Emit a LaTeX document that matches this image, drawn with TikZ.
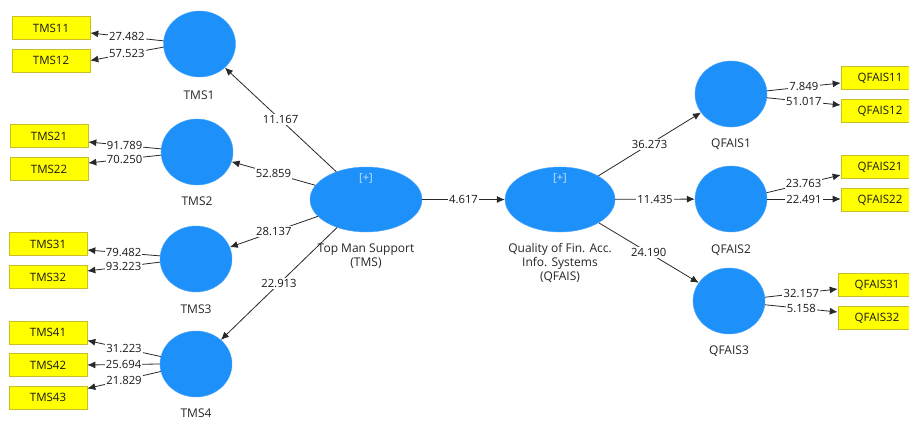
\documentclass[tikz,border=0pt]{standalone}
\usepackage{fontspec}
\setmainfont{Open Sans}
\usetikzlibrary{shapes.geometric,arrows.meta,calc}
\definecolor{lvblue}{RGB}{30,144,250}
\definecolor{indyellow}{RGB}{255,255,0}
\definecolor{indborder}{RGB}{200,190,40}
\definecolor{linegray}{RGB}{40,40,40}
\definecolor{plusblue}{RGB}{200,228,255}
\tikzset{
  lv/.style={ellipse, fill=lvblue, draw=lvblue!80!white, line width=0.4pt, inner sep=0pt, minimum width=72pt, minimum height=66pt},
  bigl/.style={ellipse, fill=lvblue, draw=lvblue!80!white, line width=0.4pt, inner sep=0pt, minimum width=112pt, minimum height=65pt},
  ind/.style={rectangle, fill=indyellow, draw=indborder, line width=0.6pt, inner sep=0pt, minimum width=78pt, minimum height=23pt, font=\fontsize{11.5}{12}\selectfont, text=black!90},
  lbl/.style={font=\fontsize{12}{14}\selectfont, text=black!85, align=center, inner sep=0pt},
  num/.style={font=\fontsize{11.3}{12}\selectfont, text=black!90, fill=white, inner sep=1.2pt, midway},
  con/.style={draw=linegray, line width=0.8pt, -{Latex[length=8pt,width=7pt]}},
}
\begin{document}
\begin{tikzpicture}[x=1pt,y=-1pt]
\useasboundingbox (0,0) rectangle (909,420);
\clip (0,0) rectangle (909,420);
\fill[white] (0,0) rectangle (909,420);

% latent variables
\node[bigl] (tms) at (366,199.5) {};
\node[bigl, minimum width=110pt] (qfais) at (560,199.5) {};
\node[lbl, text=plusblue, font=\fontsize{11}{12}\selectfont] (tmsp) at (366,178) {[+]};
\node[lbl, text=plusblue, font=\fontsize{11}{12}\selectfont] (qfaisp) at (560,178) {[+]};
\node[lbl] (tmsl) at (366,256) {Top Man Support\\(TMS)};
\node[lbl] (qfaisl) at (560,263) {Quality of Fin. Acc.\\Info. Systems\\(QFAIS)};

\node[lv] (c1) at (199.5,44) {};
\node[lv] (c2) at (197,152) {};
\node[lv] (c3) at (196,259) {};
\node[lv] (c4) at (196,364) {};
\node[lv] (q1) at (731,94) {};
\node[lv] (q2) at (731,199) {};
\node[lv] (q3) at (729,301) {};

\node[lbl] (c1l) at (199,95) {TMS1};
\node[lbl] (c2l) at (197,201) {TMS2};
\node[lbl] (c3l) at (196,309) {TMS3};
\node[lbl] (c4l) at (196,413) {TMS4};
\node[lbl] (q1l) at (731,144) {QFAIS1};
\node[lbl] (q2l) at (731,250) {QFAIS2};
\node[lbl] (q3l) at (729,351) {QFAIS3};

% indicators
\node[ind] (t11) at (51,28) {TMS11};
\node[ind] (t12) at (51,60.5) {TMS12};
\node[ind] (t21) at (49,136) {TMS21};
\node[ind] (t22) at (49,169) {TMS22};
\node[ind] (t31) at (48,244) {TMS31};
\node[ind] (t32) at (48,277) {TMS32};
\node[ind] (t41) at (48,332.5) {TMS41};
\node[ind] (t42) at (48,365) {TMS42};
\node[ind] (t43) at (48,397.5) {TMS43};

\node[ind] (f11) at (880,78) {QFAIS11};
\node[ind] (f12) at (880,111) {QFAIS12};
\node[ind] (f21) at (880,167) {QFAIS21};
\node[ind] (f22) at (880,200) {QFAIS22};
\node[ind] (f31) at (877,285) {QFAIS31};
\node[ind] (f32) at (877,318) {QFAIS32};

% structural paths
\draw[con] (tms) -- node[num] {11.167} (c1);
\draw[con] (tms) -- node[num] {52.859} (c2);
\draw[con] (tms) -- node[num] {28.137} (c3);
\draw[con] (tms) -- node[num] {22.913} (c4);
\draw[con] (tms) -- node[num] {4.617} (qfais);
\draw[con] (qfais) -- node[num] {36.273} (q1);
\draw[con] (qfais) -- node[num] {11.435} (q2);
\draw[con] (qfais) -- node[num] {24.190} (q3);

% outer loadings
\draw[con] (c1.175) -- node[num] {27.482} ($(t11.east)+(0,5)$);
\draw[con] (c1.185) -- node[num] {57.523} (t12.east);
\draw[con] (c2.175) -- node[num] {91.789} ($(t21.east)+(0,6)$);
\draw[con] (c2.185) -- node[num] {70.250} ($(t22.east)+(0,-6)$);
\draw[con] (c3.175) -- node[num] {79.482} ($(t31.east)+(0,6)$);
\draw[con] (c3.185) -- node[num] {93.223} ($(t32.east)+(0,-6)$);
\draw[con] (c4.168) -- node[num] {31.223} ($(t41.east)+(0,8)$);
\draw[con] (c4.180) -- node[num] {25.694} (t42.east);
\draw[con] (c4.192) -- node[num] {21.829} ($(t43.east)+(0,-9)$);

\draw[con] (q1.5) -- node[num] {7.849} ($(f11.west)+(0,5)$);
\draw[con] (q1.354) -- node[num] {51.017} ($(f12.west)+(0,-6)$);
\draw[con] (q2.10) -- node[num] {23.763} ($(f21.west)+(0,8)$);
\draw[con] (q2.0) -- node[num] {22.491} ($(f22.west)+(0,-1)$);
\draw[con] (q3.6) -- node[num] {32.157} ($(f31.west)+(0,4)$);
\draw[con] (q3.354) -- node[num] {5.158} ($(f32.west)+(0,-6)$);
\end{tikzpicture}
\end{document}
